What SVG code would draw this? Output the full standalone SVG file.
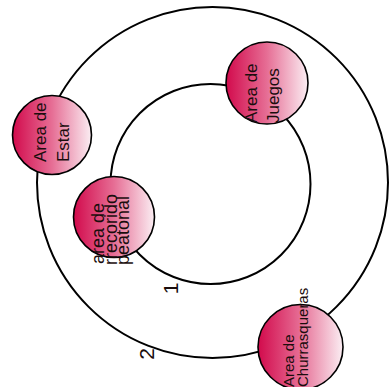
<svg xmlns="http://www.w3.org/2000/svg" width="390" height="387" viewBox="0 0 390 387">
<defs>
<linearGradient id="pink" x1="0" y1="0" x2="1" y2="0">
<stop offset="0" stop-color="#d20a4c"/>
<stop offset="0.5" stop-color="#e66e95"/>
<stop offset="1" stop-color="#fbeef3"/>
</linearGradient>
<style>
.ring{fill:none;stroke:#000;stroke-width:2}
.node{fill:url(#pink);stroke:#000;stroke-width:1.6}
.t{font-family:"Liberation Sans",Arial,sans-serif;font-size:17px;fill:#1a0d0d}
.lbl{font-family:"Liberation Sans",Arial,sans-serif;font-size:21px;fill:#1a0d0d;text-anchor:middle}
</style>
</defs>
<rect width="390" height="387" fill="#fff"/>
<g id="connectors">
<circle class="ring" cx="212.5" cy="182.5" r="175.5"/>
<circle class="ring" cx="210.5" cy="184" r="100"/>
<text class="lbl" transform="translate(178,288.5) rotate(-90)">1</text>
<text class="lbl" transform="translate(153.5,354) rotate(-90)">2</text>
</g>
<g id="node-estar">
<circle class="node" cx="52" cy="135" r="39.5"/>
<text class="t" transform="translate(46,162) rotate(-90)">Area de</text>
<text class="t" transform="translate(69,162) rotate(-90)">Estar</text>
</g>
<g id="node-juegos">
<circle class="node" cx="267" cy="83" r="41"/>
<text class="t" transform="translate(257,123) rotate(-90)">Area de</text>
<text class="t" transform="translate(279,123) rotate(-90)">Juegos</text>
</g>
<g id="node-recorrido">
<circle class="node" cx="114" cy="217" r="40.5"/>
<text class="t" style="font-size:18px" transform="translate(104,264) rotate(-90)">area de</text>
<text class="t" style="font-size:18px" transform="translate(117,265) rotate(-90)">rrecorido</text>
<text class="t" style="font-size:18px" transform="translate(129,265) rotate(-90)">peatonal</text>
</g>
<g id="node-churrasqueras">
<circle class="node" cx="300.5" cy="347" r="42.5"/>
<text class="t" style="font-size:15px" transform="translate(294,387) rotate(-90)">Area de</text>
<text class="t" style="font-size:15px" transform="translate(308,387) rotate(-90)">Churrasqueras</text>
</g>
</svg>
